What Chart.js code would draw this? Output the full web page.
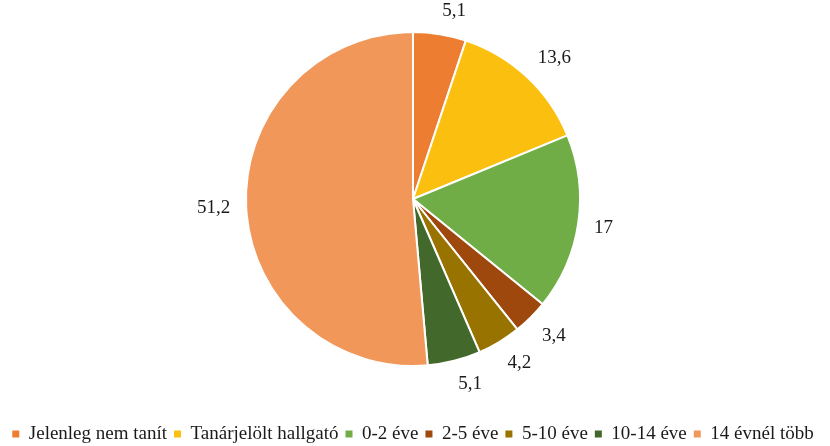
<!DOCTYPE html>
<html>
<head>
<meta charset="utf-8">
<script src="https://cdn.jsdelivr.net/npm/chart.js@4.4.1/dist/chart.umd.min.js"></script>
<style>
    html, body { margin: 0; padding: 0; background: #fff; }
    #wrap { width: 830px; height: 446px; }
</style>
</head>
<body>
<div id="wrap"><canvas id="pieChart"></canvas></div>
<script>
const categories = ['Jelenleg nem tanít', 'Tanárjelölt hallgató', '0-2 éve', '2-5 éve', '5-10 éve', '10-14 éve', '14 évnél több'];
const values = [5.1, 13.6, 17, 3.4, 4.2, 5.1, 51.2];
const valueLabels = ['5,1', '13,6', '17', '3,4', '4,2', '5,1', '51,2'];
const sliceColors = ['#ED7D31', '#FBBF10', '#70AD47', '#9E480E', '#997300', '#43682B', '#F1975A'];

const serif = '"Liberation Serif", "Times New Roman", serif';
const fontSize = 19;

// outside labels: anchor just past the rim, label box hung off it by its nearest corner
const outsideLabels = {
    id: 'outsideLabels',
    afterDatasetsDraw(chart) {
        const ctx = chart.ctx;
        const meta = chart.getDatasetMeta(0);
        ctx.save();
        ctx.font = fontSize + 'px ' + serif;
        ctx.fillStyle = '#1a1a1a';
        ctx.textAlign = 'center';
        ctx.textBaseline = 'middle';
        meta.data.forEach(function(arc, i) {
            const p = arc.getProps(['x', 'y', 'startAngle', 'endAngle', 'outerRadius'], true);
            const mid = (p.startAngle + p.endAngle) / 2;
            const cos = Math.cos(mid), sin = Math.sin(mid);
            const w = ctx.measureText(valueLabels[i]).width;
            const h = 15;
            const ax = p.x + cos * (p.outerRadius + 16);
            const ay = p.y + sin * (p.outerRadius + 16);
            const sx = Math.abs(cos) < 1e-6 ? 0 : Math.sign(cos);
            const sy = Math.max(-1, Math.min(1, sin * 2));
            ctx.fillText(valueLabels[i], ax + sx * w / 2, ay + sy * h / 2);
        });
        ctx.restore();
    }
};

// legend row sits low along the bottom, pie stays centred higher up
const legendFit = {
    id: 'legendFit',
    beforeLayout(chart) {
        const legend = chart.legend;
        if (legend && !legend._wrapped) {
            const origFit = legend.fit;
            legend.fit = function() {
                origFit.call(this);
                this.height = 48;
            };
            legend._wrapped = true;
        }
    }
};

new Chart(document.getElementById('pieChart'), {
    type: 'pie',
    data: {
        labels: categories,
        datasets: [{
            data: values,
            backgroundColor: sliceColors,
            borderColor: '#ffffff',
            borderWidth: 2,
            radius: 167
        }]
    },
    options: {
        responsive: true,
        maintainAspectRatio: false,
        animation: false,
        layout: { padding: { top: 0, right: 4, bottom: 0, left: 0 } },
        plugins: {
            legend: {
                position: 'bottom',
                title: {
                    display: true,
                    text: '',
                    font: { size: 1 },
                    padding: { top: 18.3, bottom: 0 }
                },
                labels: {
                    boxWidth: 7,
                    boxHeight: 7,
                    padding: 7,
                    color: '#1a1a1a',
                    font: { family: serif, size: fontSize },
                    generateLabels: function(chart) {
                        const items = Chart.overrides.pie.plugins.legend.labels.generateLabels(chart);
                        items.forEach(function(item) {
                            item.lineWidth = 0;
                            item.strokeStyle = item.fillStyle;
                        });
                        return items;
                    }
                }
            },
            tooltip: { enabled: false }
        }
    },
    plugins: [outsideLabels, legendFit]
});
</script>
</body>
</html>
